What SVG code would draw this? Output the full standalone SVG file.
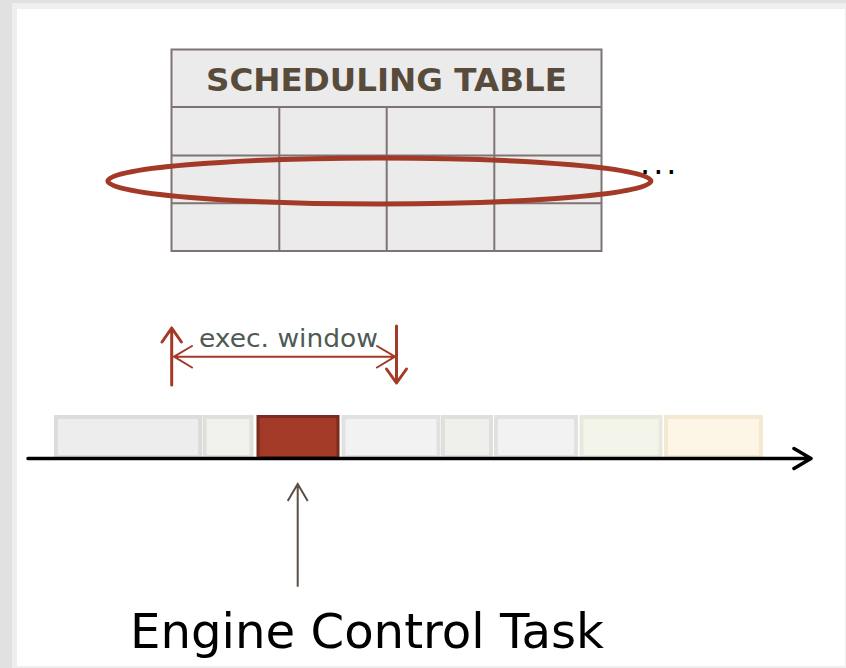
<svg xmlns="http://www.w3.org/2000/svg" width="846" height="668" viewBox="0 0 846 668">
<defs>
<style>
.cell{fill:#ebebeb;stroke:#7f7475;stroke-width:2}
.grid{stroke:#7f7475;stroke-width:2;fill:none}
.red{stroke:#a33a28;fill:none;stroke-linecap:round;stroke-linejoin:round}
.blk{stroke-width:4}
.ttl{font-family:"DejaVu Sans",Verdana,sans-serif;font-weight:bold;font-size:32px;fill:#584b3c}
.lbl{font-family:"DejaVu Sans",Verdana,sans-serif}
</style>
</defs>
<rect x="0" y="0" width="846" height="668" fill="#e1e1e1"/>
<rect x="12" y="3" width="834" height="665" fill="#efefef"/>
<rect x="17" y="9" width="828" height="657" fill="#ffffff"/>

<g id="scheduling-table">
<rect class="cell" x="171.5" y="49.5" width="430" height="201.5"/>
<line class="grid" x1="171.5" y1="107" x2="601.5" y2="107"/>
<line class="grid" x1="171.5" y1="155.5" x2="601.5" y2="155.5"/>
<line class="grid" x1="171.5" y1="203.3" x2="601.5" y2="203.3"/>
<line class="grid" x1="279.3" y1="107" x2="279.3" y2="251"/>
<line class="grid" x1="386.7" y1="107" x2="386.7" y2="251"/>
<line class="grid" x1="494.3" y1="107" x2="494.3" y2="251"/>
<text class="ttl" x="206" y="90.5" textLength="361" lengthAdjust="spacingAndGlyphs">SCHEDULING TABLE</text>
</g>

<g id="row-highlight">
<ellipse class="red" cx="379.4" cy="181" rx="271.5" ry="23" stroke-width="5"/>
</g>

<g id="ellipsis">
<text class="lbl" x="640" y="174" font-size="32" letter-spacing="3" fill="#000000">...</text>
</g>

<g id="exec-window">
<text class="lbl" x="199" y="347" font-size="25" textLength="179" lengthAdjust="spacingAndGlyphs" fill="#4e5a55">exec. window</text>
</g>

<g id="timeline">
<rect class="blk" x="56" y="417" width="144" height="40" fill="#eeedee" stroke="#dcdcdc"/>
<rect class="blk" x="204.5" y="417" width="47" height="40" fill="#f0f0ec" stroke="#dfe0dc"/>
<rect x="258" y="416.5" width="80" height="41" fill="#a33a28" stroke="#7a2a1e" stroke-width="3"/>
<rect class="blk" x="343.5" y="417" width="95" height="40" fill="#f2f2f2" stroke="#dfe2e0"/>
<rect class="blk" x="443" y="417" width="48" height="40" fill="#efefeb" stroke="#dfe0dc"/>
<rect class="blk" x="496" y="417" width="80" height="40" fill="#f2f2f2" stroke="#dfe2e0"/>
<rect class="blk" x="581.5" y="417" width="79" height="40" fill="#f4f5ea" stroke="#e8e9dc"/>
<rect class="blk" x="666" y="417" width="95" height="40" fill="#fdf5e6" stroke="#f5e8d0"/>
</g>

<g id="task-label">
<text class="lbl" x="130" y="647.5" font-size="48" textLength="474" lengthAdjust="spacingAndGlyphs" fill="#000000">Engine Control Task</text>
</g>

<g id="connectors">
<path class="red" stroke-width="3" d="M171.7 385 V328 M162 342 L171.7 328 L181.4 342"/>
<path class="red" stroke-width="3" d="M396.5 326 V383 M386.5 369 L396.5 383 L406.5 369"/>
<path class="red" stroke-width="2" d="M174 356.7 H395 M192 346 L174 356.7 L192 367.5 M377 346 L395 356.7 L377 367.5"/>
<path d="M28 458.5 H811 M794 448.5 L811 458.5 L794 468.5" fill="none" stroke="#000000" stroke-width="3.5" stroke-linecap="round" stroke-linejoin="round"/>
<path d="M297.7 586.7 V484 M287.7 501 L297.7 484 L307.7 501" fill="none" stroke="#5c4f44" stroke-width="2"/>
</g>
</svg>
